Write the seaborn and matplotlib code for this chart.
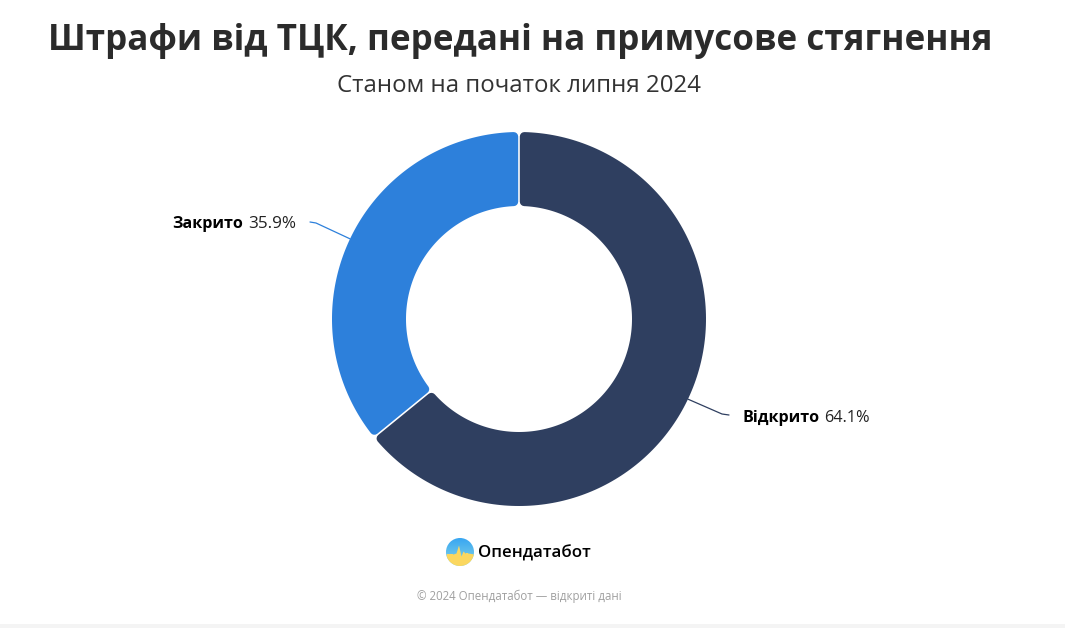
#!usr/bin/python
# Штрафи від ТЦК - donut chart
import numpy as np
import matplotlib
matplotlib.use("Agg")
import matplotlib.pyplot as plt
from matplotlib.path import Path
from matplotlib.patches import Circle, Rectangle
import seaborn as sns

# data
categories = ["Відкрито", "Закрито"]
shares = [64.1, 35.9]
colors = ["#2f3f60", "#2d80db"]

title = "Штрафи від ТЦК, передані на примусове стягнення"
subtitle = "Станом на початок липня 2024"
brand = "Опендатабот"
footer = "© 2024 Опендатабот — відкриті дані"

sns.set_theme(style="white")
plt.rcParams['font.family'] = ['Open Sans', 'DejaVu Sans']

W, H = 1065, 628
CX, CY, R_OUT, R_IN = 519, 319, 187, 113
fig = plt.figure(figsize=(W / 100, H / 100), dpi=100)
fig.patch.set_facecolor("white")


def fx(x):
    return x / W


def fy(y):
    return 1 - y / H


# pie axes is exactly the outer circle
ax = fig.add_axes([fx(CX - R_OUT), fy(CY + R_OUT), 2 * R_OUT / W, 2 * R_OUT / H])
wedges, _ = ax.pie(shares, colors=sns.color_palette(colors), startangle=90,
                   counterclock=False, radius=1,
                   wedgeprops=dict(width=(R_OUT - R_IN) / R_OUT))
ax.set_xlim(-1, 1)
ax.set_ylim(-1, 1)

# rounded corners: inset each ring segment, then stroke it with a round join
corner = 4.5
half_gap = 0.8
inset = corner + half_gap
for w in wedges:
    t1, t2 = w.theta1, w.theta2
    ro = R_OUT - corner
    ri = R_IN + corner
    do = np.degrees(np.arcsin(inset / ro))
    di = np.degrees(np.arcsin(inset / ri))
    a_out = np.radians(np.linspace(t1 + do, t2 - do, 200))
    a_in = np.radians(np.linspace(t2 - di, t1 + di, 200))
    xs = np.r_[ro * np.cos(a_out), ri * np.cos(a_in)] / R_OUT
    ys = np.r_[ro * np.sin(a_out), ri * np.sin(a_in)] / R_OUT
    verts = np.column_stack([np.r_[xs, xs[0]], np.r_[ys, ys[0]]])
    w._path = Path(verts, closed=True)
    w.set_edgecolor(w.get_facecolor())
    w.set_linewidth(2 * corner * 72 / 100)
    w.set_joinstyle("round")

# overlay for everything placed in pixels
ov = fig.add_axes([0, 0, 1, 1], zorder=3)
ov.set_xlim(0, W)
ov.set_ylim(H, 0)
ov.axis("off")

# leader lines start at the middle of each slice
leaders = {"Відкрито": [(722, 414), (729, 415)], "Закрито": [(316, 223), (310, 222)]}
for w, cat, col in zip(wedges, categories, colors):
    mid = np.radians((w.theta1 + w.theta2) / 2)
    x0 = CX + R_OUT * np.cos(mid)
    y0 = CY - R_OUT * np.sin(mid)
    pts = [(x0, y0)] + leaders[cat]
    ov.plot([p[0] for p in pts], [p[1] for p in pts], color=col, lw=0.9,
            solid_capstyle="round")

# labels
ov.text(243, 224.5, categories[1], ha="right", va="center", fontsize=11.6,
        fontweight="bold", color="black")
ov.text(248, 224.5, f"{shares[1]}%", ha="left", va="center", fontsize=12.3, color="#222222")
ov.text(742, 417.5, categories[0], ha="left", va="center", fontsize=11.6,
        fontweight="bold", color="black")
ov.text(824, 417.5, f"{shares[0]}%", ha="left", va="center", fontsize=11.7, color="#222222")

# headings
ov.text(520, 41, title, ha="center", va="center", fontsize=25.2,
        fontweight="bold", color="#2b2b2b")
ov.text(519, 86, subtitle, ha="center", va="center", fontsize=17.3, color="#333333")

# logo
lx, ly, lr = 460, 552, 14
clip = Circle((lx, ly), lr, transform=ov.transData)
grad = np.linspace(0, 1, 64)[:, None]
cmap = sns.blend_palette(["#38a6f2", "#86d6e6"], as_cmap=True)
im = ov.imshow(grad, extent=(lx - lr, lx + lr, ly + lr, ly - lr), cmap=cmap, aspect="auto")
im.set_clip_path(clip)
sx = [lx - lr, lx - 7, lx - 4, lx - 1.5, lx + 1, lx + 3, lx + 5, lx + 8, lx + lr]
sy = [ly + 2, ly + 2, ly + 1, ly - 7, ly + 4, ly - 1, ly + 1, ly + 1, ly + 2]
yel = ov.fill_between(sx, sy, ly + lr, color="#fbd75f", lw=0)
yel.set_clip_path(clip)
ov.set_xlim(0, W)
ov.set_ylim(H, 0)
ov.text(478, 553, brand, ha="left", va="center", fontsize=12.2, fontweight="semibold",
        color="black")

# footer
ov.text(519, 596, footer, ha="center", va="center", fontsize=8.3, color="#a0a0a0")
ov.add_patch(Rectangle((0, 624), W, 4, color="#f4f4f4", lw=0))

fig.savefig("out.png", dpi=100, facecolor="white")
